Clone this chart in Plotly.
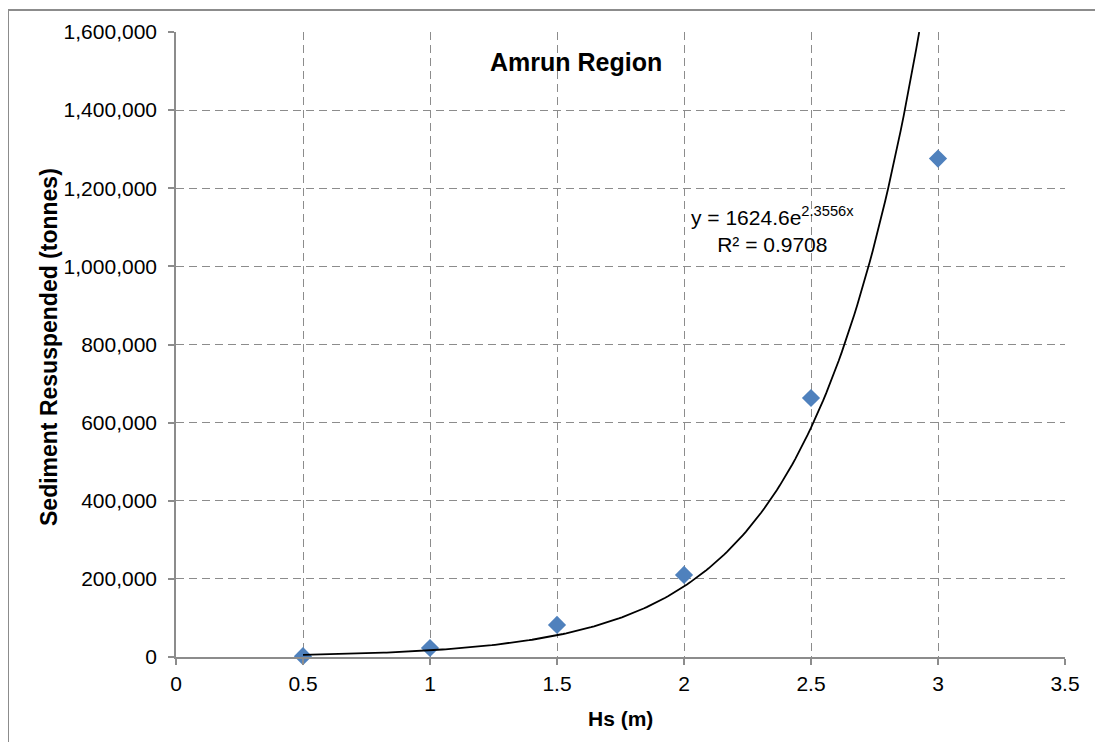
import numpy as np
import plotly.graph_objects as go

hs = [0.5, 1.0, 1.5, 2.0, 2.5, 3.0]
sediment = [2000, 23000, 82000, 210000, 663000, 1276000]

fit_a = 1624.6
fit_b = 2.3556
fit_r2 = 0.9708

x_fit = np.linspace(0.5, np.log(1600000 / fit_a) / fit_b, 200)
y_fit = fit_a * np.exp(fit_b * x_fit)

OFF = 8  # page body margin
W, H = 1103 - OFF, 742 - OFF
# plot area in screen pixels
L, R, T, B = 176, 1065, 32, 657
pw, ph = R - L, B - T


def px(x):
    return (x - L) / pw


def py(y):
    return (B - y) / ph


fig = go.Figure()
fig.add_trace(go.Scatter(x=hs, y=sediment, mode="markers",
                         marker=dict(symbol="diamond", size=14, color="#4F81BD"),
                         showlegend=False, cliponaxis=False))
fig.add_trace(go.Scatter(x=x_fit, y=y_fit, mode="lines",
                         line=dict(color="black", width=1.8), showlegend=False))

font = "Arial, 'Liberation Sans', sans-serif"
axis_common = dict(showgrid=True, gridcolor="#8c8c8c", griddash="8px,5px", gridwidth=1.2,
                   showline=True, linecolor="#8c8c8c", linewidth=1.5,
                   ticks="outside", ticklen=6, tickcolor="#8c8c8c", tickwidth=1.5,
                   zeroline=False, automargin=False,
                   tickfont=dict(family=font, size=21, color="black"))
fig.update_layout(
    width=W, height=H,
    margin=dict(l=L - OFF, r=(1103 - R), t=T - OFF, b=742 - B),
    paper_bgcolor="white", plot_bgcolor="white",
    font=dict(family=font, size=20, color="black"),
    xaxis=dict(range=[0, 3.5], tickvals=[0, 0.5, 1, 1.5, 2, 2.5, 3, 3.5],
               ticktext=["0", "0.5", "1", "1.5", "2", "2.5", "3", "3.5"],
               ticklabelstandoff=1, **axis_common),
    yaxis=dict(range=[0, 1600000], tickvals=list(range(0, 1600001, 200000)),
               tickformat=",d", ticklabelstandoff=7, **axis_common),
    annotations=[
        dict(x=px(576), y=py(62), xref="paper", yref="paper", xanchor="center", yanchor="middle",
             text="<b>Amrun Region</b>", showarrow=False, font=dict(size=25)),
        dict(x=px(620), y=py(718), xref="paper", yref="paper", xanchor="center", yanchor="middle",
             text="<b>Hs (m)</b>", showarrow=False, font=dict(size=21)),
        dict(x=px(49), y=py(347), xref="paper", yref="paper", xanchor="center", yanchor="middle",
             textangle=-90,
             text="<b>Sediment Resuspended (tonnes)</b>", showarrow=False, font=dict(size=23)),
        dict(x=px(772), y=py(229), xref="paper", yref="paper", xanchor="center", yanchor="middle",
             text="y = 1624.6e<sup>2.3556x</sup><br>R² = 0.9708", showarrow=False,
             font=dict(size=21), align="center"),
    ],
    shapes=[dict(type="rect", xref="paper", yref="paper",
                 x0=px(8), x1=px(1101), y0=py(800), y1=py(10),
                 line=dict(color="#8c8c8c", width=2))],
)

fig.write_html("out.html")
